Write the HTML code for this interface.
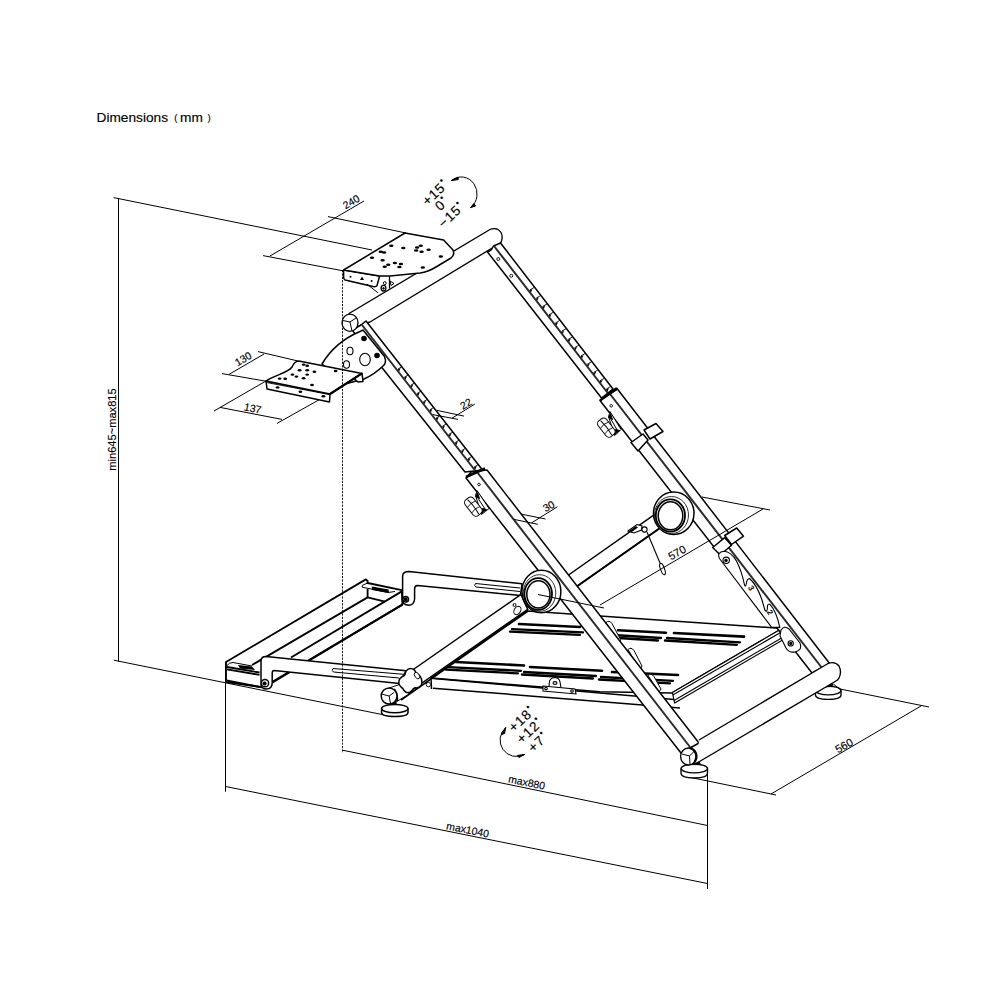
<!DOCTYPE html>
<html><head><meta charset="utf-8"><style>
html,body{margin:0;padding:0;background:#fff;width:1000px;height:1000px;overflow:hidden}
svg{position:absolute;left:0;top:0}
text{font-family:"Liberation Sans",sans-serif;fill:#000}
</style></head><body>
<svg width="1000" height="1000" viewBox="0 0 1000 1000">
<g fill="none" stroke="#000" stroke-width="1.0" stroke-linecap="butt">
<line x1="118.5" y1="198.0" x2="118.5" y2="661.6" />
<line x1="113.6" y1="197.6" x2="372.0" y2="250.0" />
<line x1="113.8" y1="660.2" x2="382.0" y2="714.5" />
<line x1="270.0" y1="256.0" x2="364.0" y2="201.0" />
<line x1="328.0" y1="216.6" x2="406.0" y2="233.0" />
<line x1="263.0" y1="255.6" x2="344.0" y2="271.0" />
<line x1="258.0" y1="351.6" x2="298.0" y2="361.0" />
<line x1="222.0" y1="373.6" x2="266.0" y2="381.2" />
<line x1="229.0" y1="374.4" x2="264.0" y2="354.0" />
<line x1="214.0" y1="411.0" x2="266.0" y2="381.0" />
<line x1="277.0" y1="423.4" x2="324.0" y2="397.0" />
<line x1="220.0" y1="407.4" x2="282.0" y2="419.4" />
<line x1="342.5" y1="750.2" x2="707.5" y2="825.5" />
<line x1="226.0" y1="786.6" x2="707.5" y2="883.5" />
<line x1="225.5" y1="662.0" x2="225.5" y2="791.8" />
<line x1="707.5" y1="768.0" x2="707.5" y2="889.0" />
<line x1="840.0" y1="689.0" x2="929.0" y2="707.0" />
<line x1="771.0" y1="794.0" x2="921.0" y2="706.0" />
<line x1="686.0" y1="776.5" x2="776.0" y2="795.0" />
<line x1="702.0" y1="497.0" x2="770.0" y2="510.0" />
</g>
<g fill="#fff" stroke="#000" stroke-width="1.5" stroke-linejoin="round">
<polygon points="431.0,678.0 527.0,611.0 782.4,628.4 672.0,693.0 600.0,691.8"/>
</g>
<g stroke="#000" stroke-width="2.3" stroke-linecap="round">
<line x1="519.0" y1="624.0" x2="580.0" y2="627.0" stroke-width="2.6"/>
<line x1="512.0" y1="629.1" x2="583.0" y2="632.4" />
<line x1="510.0" y1="631.6" x2="580.0" y2="634.9" />
<line x1="618.0" y1="630.2" x2="666.0" y2="632.8" stroke-width="2.6"/>
<line x1="613.0" y1="635.0" x2="661.0" y2="638.0" />
<line x1="611.0" y1="637.5" x2="658.0" y2="640.5" />
<line x1="674.0" y1="633.0" x2="744.0" y2="636.6" stroke-width="2.6"/>
<line x1="667.0" y1="638.0" x2="740.0" y2="642.3" />
<line x1="665.0" y1="640.5" x2="737.0" y2="644.8" />
<line x1="456.0" y1="662.0" x2="524.0" y2="665.5" stroke-width="2.6"/>
<line x1="448.0" y1="667.1" x2="521.0" y2="670.8" />
<line x1="446.0" y1="669.6" x2="518.0" y2="673.3" />
<line x1="530.0" y1="667.0" x2="602.0" y2="670.8" stroke-width="2.6"/>
<line x1="524.0" y1="672.0" x2="596.0" y2="676.0" />
<line x1="522.0" y1="674.5" x2="593.0" y2="678.5" />
<line x1="612.0" y1="672.0" x2="678.0" y2="675.0" stroke-width="2.6"/>
<line x1="601.0" y1="677.0" x2="673.0" y2="680.8" />
<line x1="599.0" y1="679.5" x2="670.0" y2="683.3" />
</g>
<g fill="#fff" stroke="#000" stroke-width="1">
<path d="M606,622.5 Q609,619.5 612,623.5 L620.5,639.5 L619,645 Z"/>
<path d="M628,649.5 Q631,646.5 634,650.5 L642,666 L640,670 Z"/>
<path d="M648,675.5 Q651,672.5 654,676.5 L661,689 L659,692 Z"/>
</g>
<g fill="none" stroke="#000" stroke-width="1.5">
<line x1="431.0" y1="678.3" x2="680.0" y2="700.0" />
<line x1="433.0" y1="688.2" x2="680.0" y2="708.0" />
<line x1="431.0" y1="678.0" x2="431.5" y2="689.0" />
</g>
<g fill="#fff" stroke="#000" stroke-width="1.1">
<path d="M549,686.5 L549.5,681 Q551,677.5 555,677.5 Q559.5,678 560,682 L561,687.5"/>
<ellipse cx="555" cy="683" rx="2" ry="1.4"/>
<path d="M543,686 L575,689 L576,694 L543,691 Z"/>
<circle cx="546" cy="688.5" r="1.3"/><circle cx="572" cy="691" r="1.3"/>
</g>
<g fill="#fff" stroke="#000" stroke-width="1.2" stroke-linejoin="round">
<polygon points="782.4,628.2 786.0,631.0 786.0,638.1 674.6,703.0 672.4,692.5"/>
</g>
<g fill="none" stroke="#000" stroke-width="1.1">
<line x1="784.0" y1="630.5" x2="672.8" y2="695.0" />
<line x1="785.5" y1="635.7" x2="674.0" y2="700.6" />
</g>
<g fill="#fff" stroke="#000" stroke-width="1.5">
<polygon points="560.0,581.0 654.0,515.0 660.0,528.0 566.0,594.0"/>
</g>
<line x1="566" y1="594" x2="660" y2="528" stroke="#000" stroke-width="1.9"/>
<g fill="#fff" stroke="#000" stroke-width="1.35" stroke-linejoin="round">
<path d="M349,313.5 L490,229.5 Q493,228 497,229 Q503,232 502,239 Q501.5,242 500.5,243 L370,322 L361,325 L356,331 Z"/>
</g>
<g fill="#fff" stroke="#000" stroke-width="1.5" stroke-linejoin="round">
<polygon points="487.5,252.0 491.5,249.5 493.5,246.0 500.5,243.0 613.0,389.0 601.5,398.0"/>
<polygon points="600.0,400.5 617.0,388.5 830.0,664.0 812.0,673.0"/>
</g>
<g fill="none" stroke="#000">
<line x1="494.0" y1="246.0" x2="608.5" y2="394.0" stroke-width="2" stroke="#2a2a2a"/>
<line x1="610.0" y1="394.0" x2="822.0" y2="668.0" stroke-width="2" stroke="#2a2a2a"/>
<line x1="529.8" y1="290.0" x2="534.3" y2="287.4" stroke-width="0.9"/>
<path d="M529.4,290.6 L532.4,289.0 L531.0,292.4 Z" fill="#000" stroke="none"/>
<line x1="536.2" y1="298.2" x2="540.6" y2="295.6" stroke-width="0.9"/>
<path d="M535.8,298.9 L538.8,297.2 L537.4,300.6 Z" fill="#000" stroke="none"/>
<line x1="542.6" y1="306.5" x2="547.0" y2="303.9" stroke-width="0.9"/>
<path d="M542.2,307.1 L545.2,305.5 L543.8,308.9 Z" fill="#000" stroke="none"/>
<line x1="549.0" y1="314.8" x2="553.3" y2="312.2" stroke-width="0.9"/>
<path d="M548.6,315.4 L551.6,313.8 L550.2,317.1 Z" fill="#000" stroke="none"/>
<line x1="555.4" y1="323.0" x2="559.7" y2="320.4" stroke-width="0.9"/>
<path d="M555.0,323.6 L558.0,322.0 L556.6,325.4 Z" fill="#000" stroke="none"/>
<line x1="561.7" y1="331.2" x2="566.1" y2="328.7" stroke-width="0.9"/>
<path d="M561.3,331.9 L564.3,330.2 L562.9,333.6 Z" fill="#000" stroke="none"/>
<line x1="568.1" y1="339.5" x2="572.4" y2="337.0" stroke-width="0.9"/>
<path d="M567.7,340.1 L570.7,338.5 L569.3,341.9 Z" fill="#000" stroke="none"/>
<line x1="574.5" y1="347.8" x2="578.8" y2="345.2" stroke-width="0.9"/>
<path d="M574.1,348.4 L577.1,346.8 L575.7,350.1 Z" fill="#000" stroke="none"/>
<line x1="580.9" y1="356.0" x2="585.1" y2="353.5" stroke-width="0.9"/>
<path d="M580.5,356.6 L583.5,355.0 L582.1,358.4 Z" fill="#000" stroke="none"/>
<line x1="587.3" y1="364.2" x2="591.5" y2="361.8" stroke-width="0.9"/>
<path d="M586.9,364.9 L589.9,363.2 L588.5,366.6 Z" fill="#000" stroke="none"/>
<line x1="593.6" y1="372.5" x2="597.8" y2="370.0" stroke-width="0.9"/>
<path d="M593.2,373.1 L596.2,371.5 L594.8,374.9 Z" fill="#000" stroke="none"/>
<line x1="600.0" y1="380.8" x2="604.2" y2="378.3" stroke-width="0.9"/>
<path d="M599.6,381.4 L602.6,379.8 L601.2,383.1 Z" fill="#000" stroke="none"/>
<line x1="606.4" y1="389.0" x2="610.6" y2="386.5" stroke-width="0.9"/>
<path d="M606.0,389.6 L609.0,388.0 L607.6,391.4 Z" fill="#000" stroke="none"/>
</g>
<line x1="600" y1="400.5" x2="617" y2="388.5" stroke="#000" stroke-width="2.4"/>
<line x1="608" y1="394" x2="617" y2="388.5" stroke="#000" stroke-width="3.2"/>
<g fill="none" stroke="#000" stroke-width="0.9">
<circle cx="498.3" cy="259" r="1.5"/>
<circle cx="511.3" cy="275.8" r="1.5"/>
<circle cx="611.2" cy="405.8" r="1.3"/>
</g>
<g fill="#fff" stroke="#000" stroke-width="1.5" stroke-linejoin="round">
<polygon points="631.0,442.5 643.0,434.0 648.0,440.0 638.0,451.0"/>
<polygon points="644.0,430.0 656.0,423.5 663.0,431.5 650.0,439.0"/>
<polygon points="712.7,547.5 724.7,537.7 731.5,545.2 720.2,555.0"/>
<polygon points="724.7,535.5 736.7,528.0 743.5,536.2 731.5,544.5"/>
</g>
<g fill="#fff" stroke="#000" stroke-width="1">
<path d="M608.5,416.5 Q610.0,412.5 610.0,411.5 L621.0,429.5 Q618.5,432.5 614.5,435.5 Z" fill="#fff"/>
<path d="M608.5,417.5 L610.5,413.5 L612.5,419.5 Z" fill="#000"/>
<path d="M614.5,434.5 L619.5,430.5 L615.5,429.5 Z" fill="#000"/>
<g transform="translate(606.5,427.5) rotate(52)"><rect x="-10" y="-5" width="20" height="10.5" rx="3.8" fill="#fff"/><path d="M-9,0.5 Q0,-1 9,0.5" fill="none"/><path d="M-3,-5 Q-5,0 -3,5.5 M4,-5 Q2,0 4,5.5" fill="none" stroke-width="0.8"/></g>
<path d="M610.5,418.5 L618.0,431.5" stroke-width="1"/>
</g>
<g fill="#fff" stroke="#000" stroke-width="1.1" stroke-linejoin="round">
<path d="M771.7,627.4 L719.5,558.5 Q716.5,552 724,551.3 Q731,551.5 736.6,561.2 Q742,572 744.4,584.5 Q745.5,588 746.4,583.5 Q746.8,578.8 749.5,578.5 Q756.5,584.5 761.5,598.5 Q763.8,606 765,610.5 Q767.4,612.8 767.5,606 Q767.8,603.6 770,604.4 Q776.5,611.5 779.8,627.4 Z"/>
<circle cx="726.2" cy="560.3" r="3.2"/>
<circle cx="726" cy="560.6" r="1.2" fill="#000"/>
</g>
<text transform="translate(747.8,587.5) rotate(60)" font-size="8" font-weight="bold">3</text>
<text transform="translate(766.5,611.8) rotate(60)" font-size="8" font-weight="bold">2</text>
<g fill="#fff" stroke="#000" stroke-width="1.1">
<path d="M781,630 Q784,625 789,629 L800,643 Q803,650 795,652 Q789,653 786,648 L780,636 Z"/>
<circle cx="790.7" cy="643.4" r="2.6"/>
<circle cx="790.7" cy="643.4" r="1" fill="#000"/>
</g>
<g fill="#fff" stroke="#000" stroke-width="1.5">
<ellipse cx="673.75" cy="513.25" rx="20.25" ry="21.25"/>
<ellipse cx="671.5" cy="515" rx="17" ry="18.5" stroke-width="0.8"/>
<ellipse cx="670.4" cy="515.5" rx="14.6" ry="16.2" stroke-width="1.8"/>
<ellipse cx="670.5" cy="515.8" rx="12.3" ry="14"/>
</g>
<g fill="#fff" stroke="#000" stroke-width="1.1">
<path d="M628,531 L637,524.5 L642,526 L641.5,530 L634,533 Z" fill="#fff"/>
<path d="M629,531 L636,526 L638,527.5 L631,532.5 Z" fill="#000" stroke="none"/>
<circle cx="644.5" cy="529.5" r="2.6"/>
<path d="M647,532 L660,563" fill="none"/>
<ellipse cx="662.5" cy="569" rx="2" ry="6" transform="rotate(-20 662.5 569)"/>
</g>
<g fill="#fff" stroke="#000" stroke-width="1.85" stroke-linejoin="round">
<polygon points="226.0,662.0 365.8,579.4 367.6,581.0 367.6,583.0 401.8,590.2 402.4,604.6 272.0,682.0 261.0,687.0 226.0,682.0"/>
</g>
<g fill="none" stroke="#000" stroke-width="1.85">
<line x1="252.0" y1="665.0" x2="367.6" y2="597.4" />
<line x1="291.0" y1="657.5" x2="401.8" y2="591.4" />
<line x1="272.6" y1="682.4" x2="402.4" y2="604.6" />
<line x1="367.6" y1="597.4" x2="385.0" y2="601.6" />
<line x1="367.6" y1="589.0" x2="367.6" y2="597.4" />
<line x1="227.0" y1="667.0" x2="259.5" y2="672.5" />
<line x1="227.0" y1="669.3" x2="259.5" y2="674.8" />
<line x1="226.5" y1="680.5" x2="259.5" y2="687.0" />
</g>
<g fill="#000" stroke="none">
<path d="M238,665 L252,666.5 L255,670 L240,668.5 Z"/>
<path d="M371.8,586.5 L388.6,589.5 L389,593 L372,590 Z"/>
</g>
<g fill="none" stroke="#000" stroke-width="1">
<path d="M227,665.5 Q229,662.5 233,662.5 L252,666"/>
<path d="M362.2,587.2 L362.2,585.4 L367.6,583 M362.2,587.2 L388,592.5 L395,591.5"/>
</g>
<g fill="#fff" stroke="#000" stroke-width="1.5" stroke-linejoin="round">
<path d="M402.6,600 L402.6,576 Q403,571.6 409,571.6 L522,583.8 L520.4,595.5 L417.4,585.6 Q414.6,585.6 414.6,589 L414.6,599 Q414,605.2 408.7,605.2 Q402.6,605 402.6,600 Z"/>
<path d="M475.5,583.5 L520,588 M476,587 L520,591.5 M475.5,583.5 Q473.5,585.5 476,587" fill="none" stroke-width="1"/>
<circle cx="405.7" cy="599.2" r="2.8"/>
<circle cx="405.7" cy="599.2" r="1.2" fill="#000"/>
</g>
<g fill="#fff" stroke="#000" stroke-width="1.5">
<polygon points="414.0,669.0 521.0,594.5 527.7,609.4 399.0,699.0"/>
</g>
<line x1="401" y1="700" x2="528" y2="611" stroke="#000" stroke-width="1.6"/>
<g fill="#fff" stroke="#000" stroke-width="1">
<ellipse cx="517.4" cy="610.5" rx="3.2" ry="4.5" transform="rotate(30 517.4 610.5)"/>
<circle cx="514.5" cy="605" r="1.5"/>
</g>
<g fill="#fff" stroke="#000" stroke-width="1.5" stroke-linejoin="round">
<polygon points="361.0,325.0 366.0,321.0 482.5,470.0 465.0,472.0 352.0,330.0"/>
<polygon points="466.0,478.0 471.0,472.0 487.0,470.0 699.0,743.0 681.0,753.0"/>
</g>
<g fill="none" stroke="#000">
<line x1="362.0" y1="325.0" x2="475.5" y2="471.0" stroke-width="2" stroke="#2a2a2a"/>
<line x1="477.0" y1="472.0" x2="690.0" y2="747.0" stroke-width="2" stroke="#2a2a2a"/>
<line x1="398.0" y1="369.0" x2="402.3" y2="366.5" stroke-width="0.9"/>
<path d="M397.6,369.6 L400.6,368.0 L399.2,371.4 Z" fill="#000" stroke="none"/>
<line x1="404.4" y1="377.2" x2="408.6" y2="374.7" stroke-width="0.9"/>
<path d="M404.0,377.8 L407.0,376.2 L405.6,379.6 Z" fill="#000" stroke="none"/>
<line x1="410.7" y1="385.3" x2="414.9" y2="382.8" stroke-width="0.9"/>
<path d="M410.3,385.9 L413.3,384.3 L411.9,387.7 Z" fill="#000" stroke="none"/>
<line x1="417.1" y1="393.5" x2="421.3" y2="391.0" stroke-width="0.9"/>
<path d="M416.7,394.1 L419.7,392.5 L418.3,395.9 Z" fill="#000" stroke="none"/>
<line x1="423.4" y1="401.7" x2="427.6" y2="399.2" stroke-width="0.9"/>
<path d="M423.0,402.3 L426.0,400.7 L424.6,404.1 Z" fill="#000" stroke="none"/>
<line x1="429.8" y1="409.8" x2="433.9" y2="407.4" stroke-width="0.9"/>
<path d="M429.4,410.4 L432.4,408.8 L431.0,412.2 Z" fill="#000" stroke="none"/>
<line x1="436.1" y1="418.0" x2="440.3" y2="415.5" stroke-width="0.9"/>
<path d="M435.7,418.6 L438.7,417.0 L437.3,420.4 Z" fill="#000" stroke="none"/>
<line x1="442.5" y1="426.2" x2="446.6" y2="423.7" stroke-width="0.9"/>
<path d="M442.1,426.8 L445.1,425.2 L443.7,428.6 Z" fill="#000" stroke="none"/>
<line x1="448.8" y1="434.3" x2="453.0" y2="431.9" stroke-width="0.9"/>
<path d="M448.4,434.9 L451.4,433.3 L450.0,436.7 Z" fill="#000" stroke="none"/>
<line x1="455.2" y1="442.5" x2="459.3" y2="440.1" stroke-width="0.9"/>
<path d="M454.8,443.1 L457.8,441.5 L456.4,444.9 Z" fill="#000" stroke="none"/>
<line x1="461.5" y1="450.7" x2="465.6" y2="448.2" stroke-width="0.9"/>
<path d="M461.1,451.3 L464.1,449.7 L462.7,453.1 Z" fill="#000" stroke="none"/>
<line x1="467.9" y1="458.8" x2="472.0" y2="456.4" stroke-width="0.9"/>
<path d="M467.5,459.4 L470.5,457.8 L469.1,461.2 Z" fill="#000" stroke="none"/>
<line x1="474.2" y1="467.0" x2="478.3" y2="464.6" stroke-width="0.9"/>
<path d="M473.8,467.6 L476.8,466.0 L475.4,469.4 Z" fill="#000" stroke="none"/>
</g>
<line x1="466" y1="477" x2="485" y2="468.5" stroke="#000" stroke-width="2.6"/>
<circle cx="479" cy="484.5" r="1.3" fill="none" stroke="#000" stroke-width="0.9"/>
<g fill="#fff" stroke="#000" stroke-width="1">
<path d="M475.5,495.5 Q477.0,491.5 477.0,490.5 L489.0,508.5 Q485.5,511.5 481.5,514.5 Z" fill="#fff"/>
<path d="M475.5,496.5 L477.5,492.5 L479.5,498.5 Z" fill="#000"/>
<path d="M481.5,513.5 L486.5,509.5 L482.5,508.5 Z" fill="#000"/>
<g transform="translate(473.5,506.5) rotate(52)"><rect x="-10" y="-5" width="20" height="10.5" rx="3.8" fill="#fff"/><path d="M-9,0.5 Q0,-1 9,0.5" fill="none"/><path d="M-3,-5 Q-5,0 -3,5.5 M4,-5 Q2,0 4,5.5" fill="none" stroke-width="0.8"/></g>
<path d="M477.5,497.5 L486.0,510.5" stroke-width="1"/>
</g>
<g fill="#fff" stroke="#000" stroke-width="1.35" stroke-linejoin="round">
<ellipse cx="350" cy="322.75" rx="8" ry="8.7"/>
<path d="M350,322 L343,320.5 M350,322 L356,318 M350,322 L352,331" fill="none" stroke-width="1"/>
</g>
<g fill="#fff" stroke="#000" stroke-width="1.5">
<ellipse cx="541.4" cy="591.5" rx="19.5" ry="21.2"/>
<ellipse cx="539.5" cy="593" rx="16.3" ry="18.3" stroke-width="0.8"/>
<ellipse cx="538.2" cy="594" rx="13.8" ry="15.9" stroke-width="1.8"/>
<ellipse cx="538.4" cy="594.4" rx="11.6" ry="13.6"/>
</g>
<g fill="#fff" stroke="#000" stroke-width="1.35" stroke-linejoin="round">
<path d="M815.5,690.5 L815.5,695 Q815.5,699.3 828.3,699.3 Q841,699.3 841,695 L841,690.5" />
<ellipse cx="828.3" cy="690.5" rx="12.7" ry="4.3"/>
<path d="M824.4,687.6 L832,683.5 L833.8,684.9 L830.2,687.1 Z" fill="#000" stroke="none"/>
<path d="M833.4,684 L840,689.4" stroke-width="1"/>
<path d="M699,740 L828,663.5 Q835,661 839,666 Q842,672 839,678 Q838,680 836,681 L697,763 Z" stroke="none"/>
<path d="M699,740 L828,663.5 Q835,661 839,666 Q842,672 839,678 Q838,680 836,681 L697,763" fill="none"/>
</g>
<g fill="#fff" stroke="#000" stroke-width="1.35">
<path d="M681,768.5 L681,773 Q681,778 694.3,778 Q707.5,778 707.5,773 L707.5,768.5" />
<ellipse cx="694.3" cy="768.5" rx="13.2" ry="4.3"/>
<ellipse cx="688.5" cy="756.5" rx="7.9" ry="8.5"/>
<path d="M690,748.2 A7.9,8.5 0 0 1 694.5,762" fill="none" stroke-width="2.4"/>
<path d="M692,763.5 L699,761.5 L701,763.5 L695,765.3 Z" fill="#000" stroke="none"/>
<path d="M689.5,756 L682,754 M689.5,756 L695,750.5 M689.5,756 L690,764" fill="none" stroke-width="1"/>
</g>
<g fill="#fff" stroke="#000" stroke-width="1.5" stroke-linejoin="round">
<path d="M261,684 L261,661 Q261,656.4 266,656.4 L406,670.8 L399.5,683.5 L274.2,670.4 Q272.2,670.4 272.2,673 L272.2,683 Q272,689 266.5,689 Q261,689 261,684 Z"/>
<path d="M333,668.5 L405,674.4 M333.5,672 L399,678 M333,668.5 Q331,670.3 333.5,672" fill="none" stroke-width="1"/>
<circle cx="265" cy="683.2" r="3.6"/>
<circle cx="264.6" cy="683.5" r="1.3" fill="#000"/>
</g>
<g fill="#fff" stroke="#000" stroke-width="1.5">
<path d="M381.6,708.6 L381.6,712.6 Q381.6,716.6 394.8,716.6 Q408,716.6 408,712.6 L408,708.6"/>
<ellipse cx="394.8" cy="708.6" rx="13.2" ry="4.2"/>
<path d="M388,701 L396,701 L397,705 L389,705 Z" fill="#000" stroke="none"/>
<path d="M389,688 L404,683 L409,694 L396,702 Z" stroke-width="1"/>
<path d="M394,689 Q398,694 397,701" fill="none" stroke-width="2"/>
<ellipse cx="389.1" cy="696" rx="7.9" ry="8.1"/>
<path d="M389.1,696 L382.2,694.2 M389.1,696 L394.2,692.4 M389.1,696 L390.6,703.8" fill="none" stroke-width="1"/>
<path d="M406,671 Q410,666.5 414.6,670.2 Q415.5,673 418,674 Q423,678 421.5,685 Q419,688.5 415,687.8 Q413,688.5 412,690.5 Q408,695 404,690.5 Q403,688 401,687 Q397,683 400,678.5 Q402.5,676 404.5,675.5 Q405.5,673 406,671 Z"/>
<ellipse cx="417" cy="675.6" rx="2.2" ry="3.6" transform="rotate(-35 417 675.6)" stroke-width="0.9"/>
<circle cx="428.4" cy="684.6" r="2.2" stroke-width="0.9"/>
</g>
<g fill="#fff" stroke="#000" stroke-width="1.5" stroke-linejoin="round">
<path d="M322,364 Q335,342 360,331.5 L363,330 L384.5,356.5 Q387,363 383,366 Q375,374 364,379 L345,384 Z"/>
</g>
<g fill="#fff" stroke="#000" stroke-width="1.1">
<ellipse cx="350" cy="351" rx="3" ry="3.8"/>
<ellipse cx="365" cy="359.5" rx="5.3" ry="6.3"/>
<ellipse cx="346.5" cy="364.5" rx="3" ry="3.8"/>
</g>
<g fill="#000">
<circle cx="364" cy="338.5" r="2.8"/>
<circle cx="377" cy="355.5" r="2.8"/>
</g>
<g fill="#fff" stroke="#000" stroke-width="1.5" stroke-linejoin="round">
<polygon points="266.0,381.0 330.0,394.0 329.5,402.0 267.0,389.0"/>
<path d="M266,381 C275,375 288,373 292,367 C294,363 295,361.5 298.8,361 L362,373.4 L330,394 Z"/>
<polygon points="354.0,378.5 362.0,373.4 363.0,381.5 358.0,382.0"/>
</g>
<line x1="330" y1="394" x2="362" y2="373.4" stroke="#000" stroke-width="2.2"/>
<g fill="#000">
<ellipse cx="277.6" cy="387.4" rx="1.9" ry="1.2"/>
<ellipse cx="300.4" cy="391.8" rx="1.9" ry="1.2"/>
<ellipse cx="323.4" cy="396.2" rx="1.9" ry="1.2"/>
<ellipse cx="303.6" cy="364.6" rx="1.9" ry="1.2"/>
<ellipse cx="307.2" cy="365.8" rx="1.9" ry="1.2"/>
<ellipse cx="299.6" cy="370.2" rx="1.9" ry="1.2"/>
<ellipse cx="307.2" cy="370.2" rx="1.9" ry="1.2"/>
<ellipse cx="314.4" cy="371.8" rx="1.9" ry="1.2"/>
<ellipse cx="335.6" cy="371" rx="1.9" ry="1.2"/>
<ellipse cx="292.4" cy="374.6" rx="1.9" ry="1.2"/>
<ellipse cx="296.4" cy="376.6" rx="1.9" ry="1.2"/>
<ellipse cx="307.2" cy="374.6" rx="1.9" ry="1.2"/>
<ellipse cx="303.6" cy="378.2" rx="1.9" ry="1.2"/>
<ellipse cx="279.6" cy="378.6" rx="1.9" ry="1.2"/>
<ellipse cx="285.2" cy="378.8" rx="1.9" ry="1.2"/>
<ellipse cx="312" cy="385" rx="1.9" ry="1.2"/>
</g>
<line x1="267" y1="382.6" x2="329.5" y2="394.6" stroke="#000" stroke-width="0.9"/>
<g fill="#fff" stroke="#000" stroke-width="1.5" stroke-linejoin="round">
<path d="M343.6,270 L379.6,276 L377,285.6 Q376,287 373,286.5 L345,280 Q343.6,279 343.6,277 Z"/>
<path d="M343.6,270 L405,233 L443.6,240 L453,250 Q455,255 451,258 L436,267 Q428,272 420,273 L390,276 L379.6,276 Z"/>
</g>
<g fill="#000">
<ellipse cx="391.3" cy="245.8" rx="2.2" ry="1.25"/>
<ellipse cx="403.3" cy="247.9" rx="2.2" ry="1.25"/>
<ellipse cx="380.8" cy="251.8" rx="2.2" ry="1.25"/>
<ellipse cx="384.1" cy="252.4" rx="2.2" ry="1.25"/>
<ellipse cx="420.7" cy="245.7" rx="2.2" ry="1.25"/>
<ellipse cx="417.1" cy="247.6" rx="2.2" ry="1.25"/>
<ellipse cx="416.2" cy="250.6" rx="2.2" ry="1.25"/>
<ellipse cx="421.6" cy="251.8" rx="2.2" ry="1.25"/>
<ellipse cx="428.6" cy="249.7" rx="2.2" ry="1.25"/>
<ellipse cx="372" cy="257.8" rx="2.2" ry="1.25"/>
<ellipse cx="382.6" cy="260.2" rx="2.2" ry="1.25"/>
<ellipse cx="388.3" cy="264.7" rx="2.2" ry="1.25"/>
<ellipse cx="384.7" cy="266.8" rx="2.2" ry="1.25"/>
<ellipse cx="394.9" cy="262.9" rx="2.2" ry="1.25"/>
<ellipse cx="400.9" cy="264.1" rx="2.2" ry="1.25"/>
<ellipse cx="399.4" cy="267.1" rx="2.2" ry="1.25"/>
<ellipse cx="422.8" cy="267.4" rx="2.2" ry="1.25"/>
<ellipse cx="440.8" cy="256.6" rx="2.2" ry="1.25"/>
<circle cx="350.5" cy="276.8" r="1"/>
<path d="M360,280 L362,276.5 L364,280 Z"/>
<circle cx="371.6" cy="281" r="1"/>
</g>
<g fill="#fff" stroke="#000" stroke-width="1">
<path d="M389.5,276.5 L389.5,288.5" stroke-width="1.3"/>
<path d="M390,281 L394,283.5 L391,285.5 Z"/>
<path d="M366.8,284 L378,292.8" />
<ellipse cx="383.5" cy="288.2" rx="2.4" ry="2.8" stroke-width="1.3"/>
<ellipse cx="384.8" cy="283.2" rx="1.4" ry="1.6"/>
<circle cx="383.5" cy="288.4" r="0.8" fill="#000"/>
</g>
<g fill="none" stroke="#000" stroke-width="1.0">
<line x1="437.0" y1="410.4" x2="464.0" y2="416.1" />
<line x1="432.8" y1="414.6" x2="458.0" y2="419.4" />
<line x1="452.0" y1="418.2" x2="474.8" y2="404.1" />
<line x1="521.0" y1="514.1" x2="545.5" y2="519.0" />
<line x1="514.0" y1="519.4" x2="537.8" y2="524.3" />
<line x1="531.5" y1="522.9" x2="557.4" y2="506.8" />
<line x1="538.0" y1="594.5" x2="604.0" y2="608.0" />
<line x1="600.0" y1="605.0" x2="763.0" y2="509.0" />
</g>
<line x1="342.5" y1="270" x2="342.5" y2="753" stroke="#000" stroke-width="0.9" stroke-dasharray="2.2,1.2"/>
<g fill="none" stroke="#000" stroke-width="1">
<path d="M451.6,180.4 A15,16 0 1 1 470.8,207.4"/>
<path d="M451.2,180.6 L458,177.2 L458.3,179.6 Z" fill="#000"/>
<path d="M470.6,207.6 L475.6,206 L473.8,203.6 Z" fill="#000"/>
<path d="M505.7,727.6 A16.5,16.5 0 0 0 524.3,754.6"/>
<path d="M505.7,727.4 L501.6,734.5 L504.6,733.5 Z" fill="#000"/>
<path d="M524.6,754.4 L517.5,755.4 L519,757.6 Z" fill="#000"/>
</g>
<g font-size="10.5" stroke="#000" stroke-width="0.15">
<text x="96.5" y="122" font-size="13.7">Dimensions</text>
<text x="174.3" y="121" font-size="9.5">(</text>
<text x="180" y="122" font-size="13.7" textLength="23">mm</text>
<text x="207.6" y="121" font-size="9.5">)</text>
<text transform="translate(115.6,429.5) rotate(-90)" text-anchor="middle" font-size="11.1">min645~max815</text>
<text transform="translate(353,205) rotate(-30)" text-anchor="middle">240</text>
<text transform="translate(245,362) rotate(-30)" text-anchor="middle">130</text>
<text transform="translate(252,412) rotate(11)" text-anchor="middle">137</text>
<text transform="translate(467.7,407.1) rotate(-30)" text-anchor="middle">22</text>
<text transform="translate(550.6,509.4) rotate(-30)" text-anchor="middle">30</text>
<text transform="translate(679,556) rotate(-30)" text-anchor="middle" font-size="11">570</text>
<text transform="translate(846,749) rotate(-30)" text-anchor="middle" font-size="11">560</text>
<text transform="translate(526,786) rotate(11.7)" text-anchor="middle">max880</text>
<text transform="translate(467,833.4) rotate(11.3)" text-anchor="middle">max1040</text>
<text transform="translate(438.5,195.9) rotate(-43)" text-anchor="middle" font-size="13.5" letter-spacing="1">+15<tspan dx="0.3" dy="-6.2" font-size="9">•</tspan></text>
<text transform="translate(444.9,207.1) rotate(-43)" text-anchor="middle" font-size="13.5" letter-spacing="1">0<tspan dx="0.3" dy="-6.2" font-size="9">•</tspan></text>
<text transform="translate(454.5,218.3) rotate(-43)" text-anchor="middle" font-size="13.5" letter-spacing="1">−15<tspan dx="0.3" dy="-6.2" font-size="9">•</tspan></text>
<text transform="translate(524.8,722.4) rotate(-43)" text-anchor="middle" font-size="13.5" letter-spacing="1">+18<tspan dx="0.3" dy="-6.2" font-size="9">•</tspan></text>
<text transform="translate(532.8,734) rotate(-43)" text-anchor="middle" font-size="13.5" letter-spacing="1">+12<tspan dx="0.3" dy="-6.2" font-size="9">•</tspan></text>
<text transform="translate(541.3,745.5) rotate(-43)" text-anchor="middle" font-size="13.5" letter-spacing="1">+7<tspan dx="0.3" dy="-6.2" font-size="9">•</tspan></text>
</g>
</svg>
</body></html>
